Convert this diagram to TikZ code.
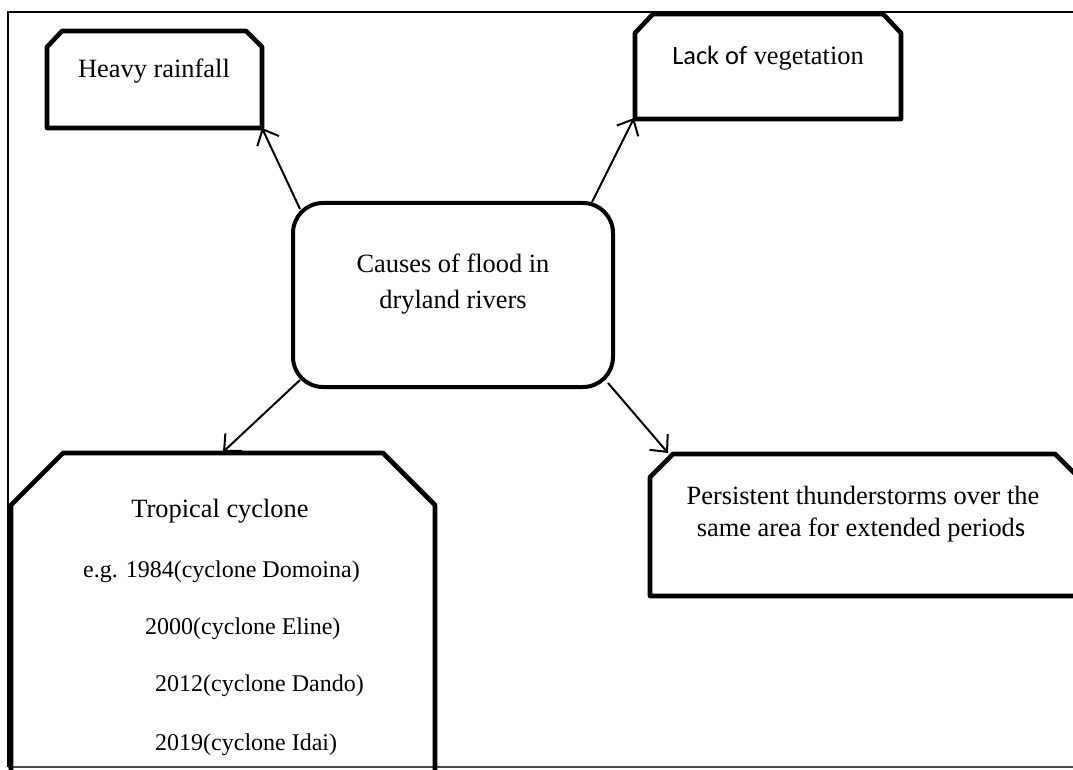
\documentclass[tikz,border=0pt]{standalone}
\usepackage{fontspec}
\setmainfont{Liberation Serif}
\newfontfamily\carlito{Carlito}
\usetikzlibrary{arrows.meta}
\begin{document}
\begin{tikzpicture}[x=1pt,y=-1pt,
  frameline/.style={line width=1.8pt},
  causebox/.style={line width=4.6pt, line join=round},
  hub/.style={draw, line width=4pt, rounded corners=30pt, minimum width=320pt, minimum height=184pt, inner sep=0pt},
  txt/.style={font=\fontsize{26.4}{30}\selectfont, inner sep=0pt, anchor=base},
  small/.style={font=\fontsize{24}{28}\selectfont, inner sep=0pt, anchor=base west},
  link/.style={line width=2pt, -{Straight Barb[length=13pt,width=24pt,line width=2pt]}}]
\useasboundingbox (0,0) rectangle (1073,770);
% outer frame
\draw[frameline] (1080,12) -- (8,12) -- (8,767);
\draw[line width=1.3pt, black!70] (8,767) -- (1080,767);
% cause boxes
\draw[causebox] (47,128) -- (47,47) -- (62,31) -- (246,31) -- (262,47) -- (262,128) -- cycle;
\draw[causebox] (635,119) -- (635,33) -- (653,14) -- (883,14) -- (901,33) -- (901,119) -- cycle;
\draw[causebox] (11,780) -- (11,505) -- (63,453) -- (383,453) -- (435,505) -- (435,780);
\draw[causebox] (1090,596) -- (650,596) -- (650,477) -- (673,454) -- (1055,454) -- (1078,477) -- (1078,600);
% arrow targets
\coordinate (hrtip) at (262,128);
\coordinate (lvtip) at (634,118);
\coordinate (tctip) at (223,452);
\coordinate (pttip) at (668,453);
% central node
\node[hub] (hub) at (453,295) {};
\node[txt] (c1) at (453,272) {Causes of flood in};
\node[txt] (c2) at (453,308) {dryland rivers};
% texts
\node[txt] (hr) at (154,78) {Heavy rainfall};
\node[txt] (lv) at (768,65) {{\carlito Lack of} vegetation};
\node[txt] (pt1) at (863,504) {Persistent thunderstorms over the};
\node[txt] (pt2) at (861,536) {same area for extended period{\carlito s}};
\node[txt] (tc) at (220,517) {Tropical cyclone};
\node[small] (e1) at (83,577) {e.g. 1984(cyclone Domoina)};
\node[small] (e2) at (145,634) {2000(cyclone Eline)};
\node[small] (e3) at (155,691) {2012(cyclone Dando)};
\node[small] (e4) at (155,750) {2019(cyclone Idai)};
% connectors
\draw[link] ([shift={(9,8)}]hub.north west) -- (hrtip);
\draw[link] ([shift={(-23,1)}]hub.north east) -- (lvtip);
\draw[link] ([shift={(9,-9)}]hub.south west) -- (tctip);
\draw[link] ([shift={(-7,-6)}]hub.south east) -- (pttip);
\end{tikzpicture}
\end{document}
